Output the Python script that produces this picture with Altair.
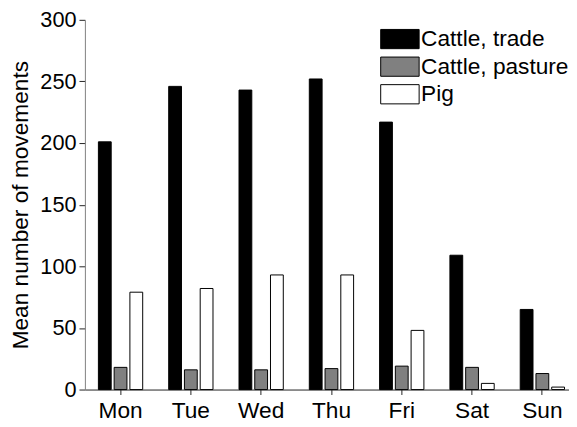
import altair as alt
import pandas as pd

days = ["Mon", "Tue", "Wed", "Thu", "Fri", "Sat", "Sun"]
series = ["Cattle, trade", "Cattle, pasture", "Pig"]
trade = [201, 246, 243, 252, 217, 109, 65]
pasture = [18, 16, 16, 17, 19, 18, 13]
pig = [79, 82, 93, 93, 48, 5, 2]
colors = ["#000000", "#808080", "#ffffff"]

rows = []
for name, vals in zip(series, [trade, pasture, pig]):
    for d, v in zip(days, vals):
        rows.append({"day": d, "series": name, "value": v})
df = pd.DataFrame(rows)

FONT = "Liberation Sans"

chart = alt.Chart(df).mark_bar(stroke="black", strokeWidth=1).encode(
    x=alt.X("day:N", sort=days, title=None,
            scale=alt.Scale(paddingInner=0.37, paddingOuter=0.128, align=0.75),
            axis=alt.Axis(labelAngle=0, labelFontSize=23, labelFont=FONT, labelColor="black",
                          domainColor="#222222", tickColor="#222222", tickSize=5,
                          labelPadding=5)),
    xOffset=alt.XOffset("series:N", sort=series,
                        scale=alt.Scale(paddingInner=0.1875, paddingOuter=0)),
    y=alt.Y("value:Q", title="Mean number of movements",
            scale=alt.Scale(domain=[0, 300], nice=False),
            axis=alt.Axis(values=[0, 50, 100, 150, 200, 250, 300], grid=False,
                          labelFontSize=22, labelFont=FONT, labelColor="black",
                          titleFontSize=23, titleFont=FONT, titleFontWeight="normal",
                          titleColor="black", domainColor="#808080", tickColor="#222222",
                          tickSize=6, labelPadding=3, titlePadding=8)),
    fill=alt.Fill("series:N", sort=series,
                  scale=alt.Scale(domain=series, range=colors),
                  legend=alt.Legend(title=None, orient="none", legendX=308, legendY=8,
                                    symbolType="M-2,-1H2V1H-2Z", symbolSize=380,
                                    symbolStrokeColor="black", symbolStrokeWidth=1,
                                    symbolOpacity=1,
                                    labelFontSize=23, labelFont=FONT, labelColor="black",
                                    labelOffset=10, rowPadding=3)),
).properties(
    width=491, height=375,
    autosize=alt.AutoSizeParams(type="none"),
    padding={"left": 78, "top": 9, "right": 0, "bottom": 36},
).configure_view(stroke=None)

chart.save("out.html", embed_options={"renderer": "svg", "actions": False})
